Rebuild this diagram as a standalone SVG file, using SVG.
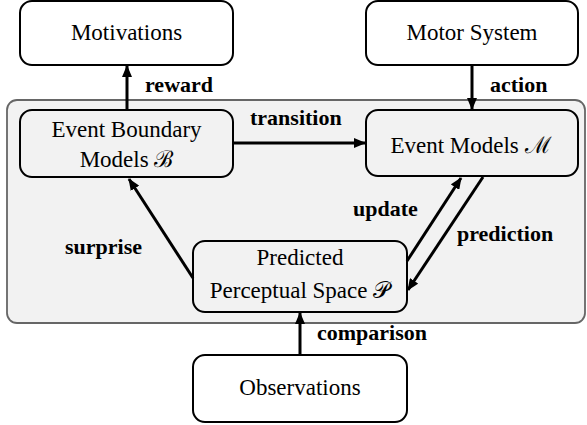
<svg xmlns="http://www.w3.org/2000/svg" width="587" height="425" viewBox="0 0 587 425">
<defs>
<marker id="ah" viewBox="0 0 12 10" refX="11" refY="5" markerWidth="12" markerHeight="10" markerUnits="userSpaceOnUse" orient="auto">
<path d="M0,0 L12,5 L0,10 Z" fill="#000"/>
</marker>
</defs>
<style>
.box{stroke:#000;stroke-width:2;}
.outer{fill:#fff;}
.inner{fill:#f2f2f2;}
.t{font-family:'Liberation Serif','Times New Roman',serif;font-size:23px;fill:#000;text-anchor:middle;}
.l{font-family:'Liberation Serif','Times New Roman',serif;font-size:22px;font-weight:bold;fill:#000;}
.c{stroke:#000;stroke-width:3;fill:none;marker-end:url(#ah);}
</style>
<rect id="container" x="7" y="100" width="578" height="223" rx="10" fill="#f2f2f2" stroke="#666" stroke-width="1.8"/>
<g id="motivations"><rect class="box outer" x="20" y="1" width="213" height="64" rx="12"/><text class="t" x="126.5" y="40">Motivations</text></g>
<g id="motor"><rect class="box outer" x="366" y="1" width="212" height="64" rx="12"/><text class="t" x="472" y="40">Motor System</text></g>
<g id="boundary"><rect class="box inner" x="20" y="110" width="213" height="67" rx="12"/><text class="t" x="126.5" y="137">Event Boundary</text><text class="t" x="126.5" y="167">Models ℬ</text></g>
<g id="eventmodels"><rect class="box inner" x="366" y="110" width="212" height="66" rx="12"/><text class="t" x="471" y="153">Event Models ℳ</text></g>
<g id="predicted"><rect class="box inner" x="193" y="241" width="214" height="71" rx="12"/><text class="t" x="300" y="265">Predicted</text><text class="t" x="300" y="298">Perceptual Space 𝒫</text></g>
<g id="observations"><rect class="box outer" x="193" y="355" width="214" height="67" rx="12"/><text class="t" x="300" y="395">Observations</text></g>
<g id="connectors">
<line class="c" x1="127" y1="110" x2="127" y2="66"/>
<line class="c" x1="472" y1="65" x2="472" y2="109"/>
<line class="c" x1="233" y1="143" x2="365" y2="143"/>
<line class="c" x1="193" y1="278" x2="129" y2="179"/>
<line class="c" x1="407" y1="261" x2="461" y2="178"/>
<line class="c" x1="483" y1="177" x2="408" y2="290"/>
<line class="c" x1="300" y1="355" x2="300" y2="313"/>
</g>
<g id="labels">
<text class="l" x="145" y="92">reward</text>
<text class="l" x="490" y="92">action</text>
<text class="l" x="250" y="125">transition</text>
<text class="l" x="65" y="254">surprise</text>
<text class="l" x="353" y="216">update</text>
<text class="l" x="457" y="241">prediction</text>
<text class="l" x="317" y="340">comparison</text>
</g>
</svg>
